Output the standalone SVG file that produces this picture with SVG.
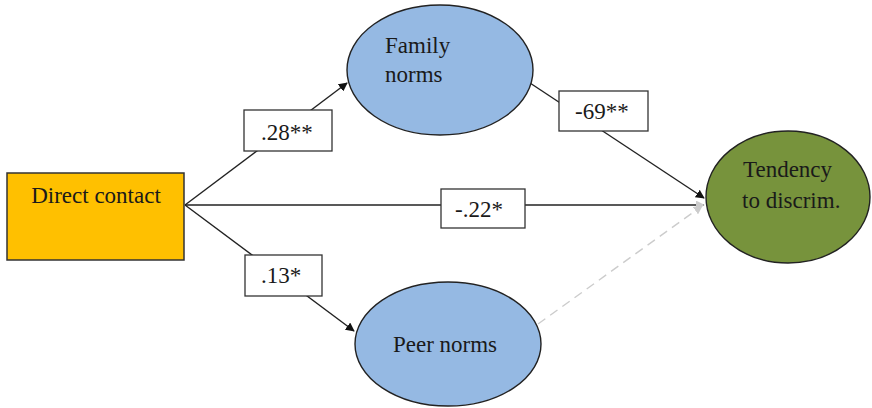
<svg xmlns="http://www.w3.org/2000/svg" width="872" height="408" viewBox="0 0 872 408">
<defs>
<style>
.t{font-family:"Liberation Serif","Times New Roman",serif;font-size:23px;fill:#1a1a1a}
.lbl{fill:#fff;stroke:#333;stroke-width:1.3}
.ln{stroke:#222;stroke-width:1.4;fill:none}
</style>
<marker id="ah" viewBox="0 0 10 10" refX="9" refY="5" markerWidth="9" markerHeight="9" markerUnits="userSpaceOnUse" orient="auto"><path d="M0,0 L10,5 L0,10 z" fill="#111"/></marker>
<marker id="ahg" viewBox="0 0 10 10" refX="9" refY="5" markerWidth="9" markerHeight="9" markerUnits="userSpaceOnUse" orient="auto"><path d="M0,0 L10,5 L0,10 z" fill="#ccc"/></marker>
</defs>
<rect width="872" height="408" fill="#fff"/>
<g id="connectors">
<line class="ln" x1="185" y1="205" x2="347" y2="83" marker-end="url(#ah)"/>
<line class="ln" x1="185" y1="205" x2="354" y2="331" marker-end="url(#ah)"/>
<line class="ln" x1="185" y1="205" x2="704" y2="205" marker-end="url(#ahg)"/>
<line class="ln" x1="530" y1="83" x2="704" y2="198" marker-end="url(#ah)"/>
<line x1="538" y1="324" x2="702" y2="206" stroke="#ccc" stroke-width="1.4" stroke-dasharray="9,6" marker-end="url(#ahg)"/>
</g>
<g id="direct-contact">
<rect x="7" y="173" width="177" height="87" fill="#FFC000" stroke="#333" stroke-width="1.5"/>
<text class="t" x="96" y="203" text-anchor="middle">Direct contact</text>
</g>
<g id="family-norms">
<ellipse cx="440" cy="70" rx="93" ry="65" fill="#95B9E3" stroke="#222" stroke-width="1.4"/>
<text class="t" x="385" y="53">Family</text>
<text class="t" x="385" y="82">norms</text>
</g>
<g id="peer-norms">
<ellipse cx="448" cy="344" rx="93" ry="62" fill="#95B9E3" stroke="#222" stroke-width="1.4"/>
<text class="t" x="445" y="352" text-anchor="middle">Peer norms</text>
</g>
<g id="tendency">
<ellipse cx="788" cy="197" rx="82" ry="66" fill="#77933C" stroke="#222" stroke-width="1.4"/>
<text class="t" x="743" y="177">Tendency</text>
<text class="t" x="742" y="208">to discrim.</text>
</g>
<g id="label-28">
<rect class="lbl" x="244" y="110" width="88" height="41"/>
<text class="t" x="261" y="140">.28**</text>
</g>
<g id="label-13">
<rect class="lbl" x="245" y="255" width="77" height="41"/>
<text class="t" x="261" y="283">.13*</text>
</g>
<g id="label-22">
<rect class="lbl" x="441" y="189" width="84" height="39"/>
<text class="t" x="455" y="217">-.22*</text>
</g>
<g id="label-69">
<rect class="lbl" x="559" y="91" width="89" height="40"/>
<text class="t" x="575" y="119">-69**</text>
</g>
</svg>
